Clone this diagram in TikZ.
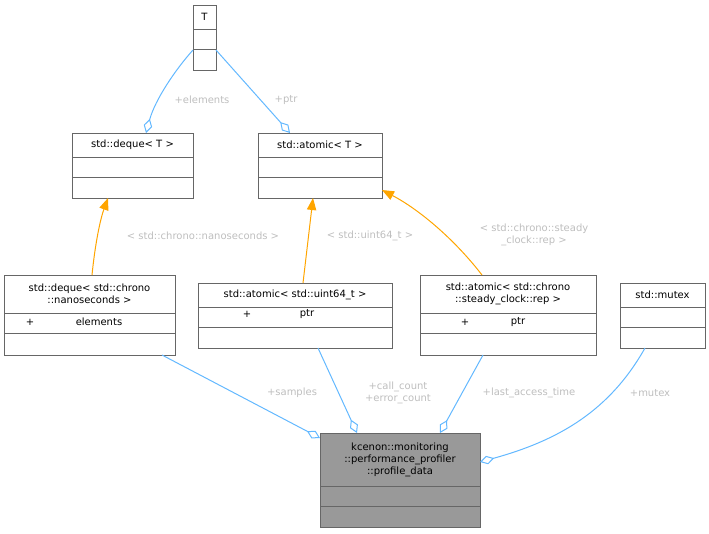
\documentclass[tikz,border=0pt]{standalone}
\usepackage{fontspec}
\setmainfont{DejaVu Sans}
\usetikzlibrary{arrows.meta}
\definecolor{edgeblue}{RGB}{99,184,255}
\definecolor{edgeorange}{RGB}{255,165,0}
\definecolor{labelgrey}{RGB}{190,190,190}
\definecolor{boxgrey}{RGB}{102,102,102}
\definecolor{fillgrey}{RGB}{153,153,153}
\tikzset{every picture/.style={line width=0.75pt}}
\tikzset{
  cls/.style={draw=boxgrey, fill=white, inner sep=0pt, anchor=north west},
  ttl/.style={font=\fontsize{7.5}{9}\selectfont, align=center, inner sep=0.75pt},
  lbl/.style={font=\fontsize{7.5}{9}\selectfont, text=labelgrey, align=center, inner sep=0.75pt},
  agg/.style={draw=edgeblue, -{Diamond[open, length=11pt, width=6.5pt]}},
  inh/.style={draw=edgeorange, -{Triangle[length=9pt, width=7pt]}}
}
% box: name, x, y, width, height, title-bottom, mid-sep, title text
\newcommand{\umlbox}[9][white]{%
  \node[cls, fill=#1, minimum width=#5*0.75pt, minimum height=#6*0.75pt] (#2) at (#3,#4) {};
  \draw[boxgrey] (#3,#7) -- ++(#5,0);
  \draw[boxgrey] (#3,#7+20) -- ++(#5,0);
  \node[ttl] (#2-t) at (#3+#5/2,{(#4+#7)/2}) {#9};
}
\begin{document}
\begin{tikzpicture}[x=0.75pt,y=0.75pt,yscale=-1,xscale=1]
\useasboundingbox (0,0) rectangle (709,533);

%Classes
\umlbox{tcls}{193}{5}{23}{65}{29}{}{T}
\umlbox{dequet}{72}{133}{121}{65}{157}{}{std::deque< T >}
\umlbox{atomt}{258}{133}{124}{65}{157}{}{std::atomic< T >}
\umlbox{dequens}{4}{275}{171}{80}{313}{}{std::deque< std::chrono\\::nanoseconds >}
\umlbox{atomu}{198}{283}{194}{65}{307}{}{std::atomic< std::uint64\_t >}
\umlbox{atoms}{420}{275}{176}{80}{313}{}{std::atomic< std::chrono\\::steady\_clock::rep >}
\umlbox{mtx}{620}{283}{85}{65}{307}{}{std::mutex}
\umlbox[fillgrey]{prof}{320}{433}{160}{94}{486}{}{kcenon::monitoring\\::performance\_profiler\\::profile\_data}

% Members
\node[ttl] (dequens-p) at (30,322) {+};
\node[ttl] (dequens-m) at (99,322) {elements};
\node[ttl] (atomu-p) at (247,314) {+};
\node[ttl] (atomu-m) at (307,314) {ptr};
\node[ttl] (atoms-p) at (465,322) {+};
\node[ttl] (atoms-m) at (518,322) {ptr};

%Inheritance
\draw[inh] (92,275) .. controls (95,245) and (100,220) .. (108,198);
\draw[inh] (303,283) -- (313,198);
\draw[inh] (482,275) .. controls (455,240) and (420,210) .. (382,190);

%Aggregation
\draw[agg] (193,50) .. controls (175,70) and (155,100) .. (146,133);
\draw[agg] (216,50) -- (290,133);
\draw[agg] (162,355) -- (320,438);
\draw[agg] (318,348) -- (357,433);
\draw[agg] (483,355) -- (440,433);
\draw[agg] (645,348) .. controls (610,410) and (560,440) .. (480,462);

% Labels
\node[lbl] (l1) at (202,100) {+elements};
\node[lbl] (l2) at (286,100) {+ptr};
\node[lbl] (l3) at (203,236) {< std::chrono::nanoseconds >};
\node[lbl] (l4) at (370,236) {< std::uint64\_t >};
\node[lbl] (l5) at (534,235) {< std::chrono::steady\\\_clock::rep >};
\node[lbl] (l6) at (292,393) {+samples};
\node[lbl] (l7) at (398,393) {+call\_count\\+error\_count};
\node[lbl] (l8) at (529,393) {+last\_access\_time};
\node[lbl] (l9) at (650,393) {+mutex};
\end{tikzpicture}
\end{document}
